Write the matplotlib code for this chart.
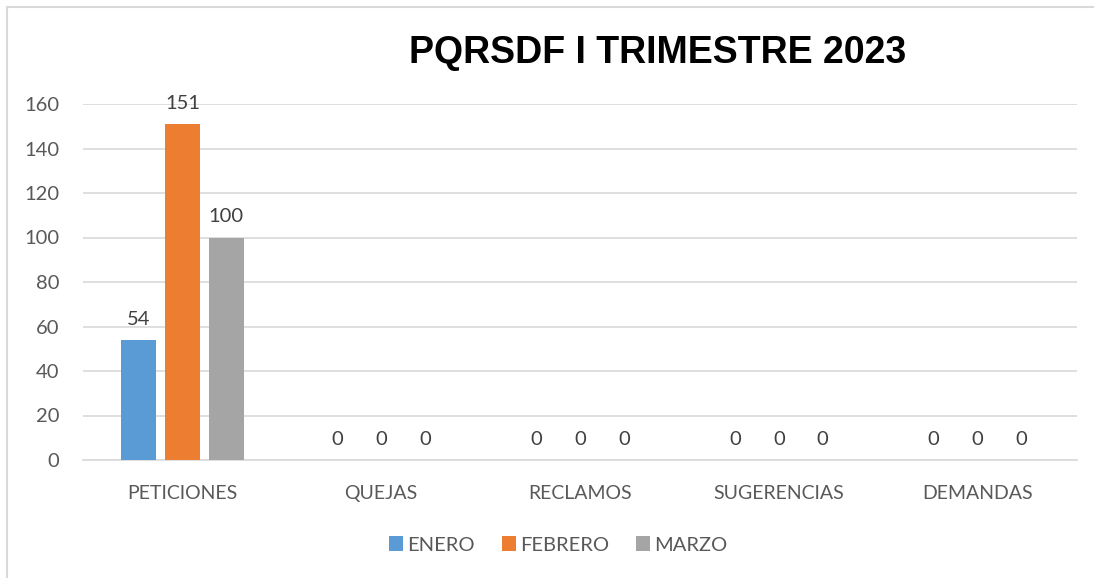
import numpy as np
import matplotlib
matplotlib.use("Agg")
import matplotlib.pyplot as plt
from matplotlib.patches import Rectangle

# ── data ─────────────────────────────────────────────────────────────────────
categories = ["PETICIONES", "QUEJAS", "RECLAMOS", "SUGERENCIAS", "DEMANDAS"]
months     = ["ENERO", "FEBRERO", "MARZO"]
enero      = [54, 0, 0, 0, 0]
febrero    = [151, 0, 0, 0, 0]
marzo      = [100, 0, 0, 0, 0]

COLORS = ["#5B9BD5", "#ED7D31", "#A5A5A5"]
TXT    = "#595959"
GRID   = "#D9D9D9"
FS     = 14.5
plt.rcParams["font.family"] = ["Lato", "DejaVu Sans"]

W, H = 1094, 578
fig = plt.figure(figsize=(W / 100, H / 100), dpi=100)
fig.patch.set_facecolor("white")

# chart border (cropped on right and bottom)
fig.add_artist(Rectangle((7 / W, -0.1), 1.2, 1 - 7 / H + 0.1,
                         transform=fig.transFigure, fill=False,
                         edgecolor=GRID, linewidth=1.5))

ax = fig.add_axes([83 / W, 1 - 460 / H, (1077 - 83) / W, (460 - 104) / H])

x = np.arange(len(categories))
bw = 0.176
step = 0.221
for i, (vals, name) in enumerate(zip([enero, febrero, marzo], months)):
    pos = x + (i - 1) * step
    ax.bar(pos, vals, width=bw, color=COLORS[i], label=name, zorder=3)
    for p, v in zip(pos, vals):
        ax.text(p, v + 5.5, str(v), ha="center", va="bottom",
                fontsize=FS, color="#404040")

ax.set_xlim(-0.5, len(categories) - 0.5)
ax.set_ylim(0, 160)
ax.set_yticks(range(0, 161, 20))
ax.set_xticks(x)
ax.set_xticklabels(categories)
ax.tick_params(axis="both", length=0, labelsize=FS, labelcolor=TXT)
ax.tick_params(axis="x", pad=18, labelsize=14)
ax.tick_params(axis="y", pad=17)
ax.grid(axis="y", color=GRID, linewidth=1.2, zorder=0)
for s in ["top", "right", "left"]:
    ax.spines[s].set_visible(False)
ax.spines["bottom"].set_color(GRID)
ax.spines["bottom"].set_linewidth(1.2)

fig.text(658 / W, 1 - 53 / H, "PQRSDF I TRIMESTRE 2023", ha="center",
         va="center", fontsize=27, fontweight="bold", color="black",
         family=["Liberation Sans", "DejaVu Sans"])

fig.legend(loc="center", bbox_to_anchor=(558 / W, 1 - 545 / H), ncol=3,
           frameon=False, fontsize=FS, labelcolor=TXT, handlelength=0.7,
           handleheight=0.7, handletextpad=0.2, columnspacing=1.35)

fig.savefig("out.png", dpi=100)
